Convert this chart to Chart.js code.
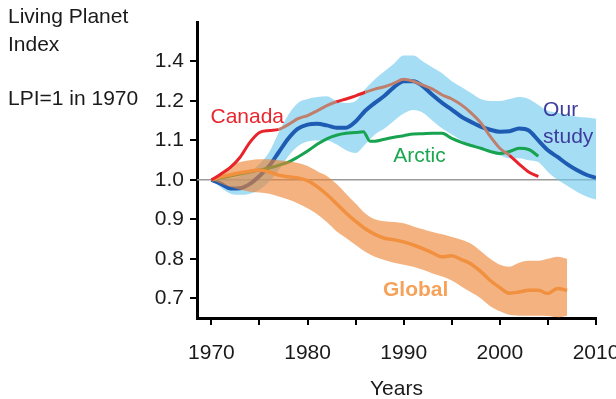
<!DOCTYPE html>
<html>
<head>
<meta charset="utf-8">
<script src="https://cdn.jsdelivr.net/npm/chart.js@4.4.1/dist/chart.umd.min.js"></script>
<style>
  body { margin: 0; background: #fff; }
  #wrap { position: relative; width: 616px; height: 399px; }
</style>
</head>
<body>
<div id="wrap"><canvas id="lpiChart" width="616" height="399"></canvas></div>
<script>
// ---- data ----
const ourYears = [1970, 1971, 1972, 1973, 1974, 1975, 1976, 1977, 1978, 1979, 1980, 1981, 1982, 1983,
    1984, 1985, 1986, 1987, 1988, 1989, 1990, 1991, 1992, 1993, 1994, 1995, 1996, 1997, 1998, 1999,
    2000, 2001, 2002, 2003, 2004, 2005, 2006, 2007, 2008, 2009, 2010];
const ourStudy = [1.0, 0.99, 0.978, 0.979, 0.99, 1.01, 1.035, 1.07, 1.105, 1.13, 1.14, 1.142, 1.138, 1.132,
    1.132, 1.148, 1.175, 1.195, 1.213, 1.235, 1.25, 1.25, 1.237, 1.215, 1.195, 1.178, 1.16, 1.147, 1.135, 1.127,
    1.122, 1.123, 1.13, 1.125, 1.1, 1.075, 1.058, 1.04, 1.025, 1.013, 1.005];
const ourHigh = [1.0, 1.005, 1.005, 1.01, 1.02, 1.04, 1.07, 1.12, 1.165, 1.195, 1.205, 1.21, 1.212, 1.2,
    1.195, 1.2, 1.23, 1.255, 1.275, 1.295, 1.315, 1.315, 1.3, 1.285, 1.27, 1.25, 1.235, 1.22, 1.205, 1.2,
    1.2, 1.205, 1.21, 1.205, 1.19, 1.175, 1.17, 1.165, 1.16, 1.158, 1.155];
const ourLow = [1.0, 0.98, 0.965, 0.962, 0.965, 0.975, 0.995, 1.025, 1.06, 1.085, 1.097, 1.1, 1.1, 1.09,
    1.075, 1.068, 1.09, 1.115, 1.13, 1.15, 1.168, 1.177, 1.17, 1.15, 1.13, 1.115, 1.1, 1.09, 1.08, 1.07,
    1.062, 1.055, 1.055, 1.05, 1.045, 1.02, 1.0, 0.985, 0.97, 0.958, 0.95];

const canadaYears = [1970, 1971, 1972, 1973, 1974, 1975, 1976, 1977, 1978, 1979, 1980, 1981, 1982, 1983,
    1984, 1985, 1986, 1987, 1988, 1989, 1990, 1991, 1992, 1993, 1994, 1995, 1996, 1997, 1998, 1999,
    2000, 2001, 2002, 2003, 2004];
const canada = [1.0, 1.015, 1.032, 1.058, 1.095, 1.12, 1.125, 1.128, 1.14, 1.155, 1.163, 1.175, 1.188, 1.198,
    1.205, 1.213, 1.222, 1.23, 1.236, 1.245, 1.255, 1.25, 1.24, 1.23, 1.215, 1.205, 1.19, 1.17, 1.145, 1.11,
    1.08, 1.062, 1.04, 1.02, 1.008];

const arcticYears = [1970, 1971, 1972, 1973, 1974, 1975, 1976, 1977, 1978, 1979, 1980, 1981, 1982, 1983,
    1984, 1985, 1985.8, 1986.5, 1987, 1988, 1989, 1990, 1991, 1992, 1993, 1994, 1995, 1996, 1997, 1998,
    1999, 2000, 2001, 2002, 2003, 2004];
const arctic = [1.0, 1.005, 1.01, 1.015, 1.02, 1.025, 1.03, 1.037, 1.045, 1.058, 1.073, 1.09, 1.104, 1.113,
    1.118, 1.12, 1.122, 1.098, 1.098, 1.103, 1.108, 1.112, 1.116, 1.117, 1.118, 1.118, 1.105, 1.095, 1.087, 1.08,
    1.072, 1.067, 1.072, 1.08, 1.077, 1.06];

const globalYears = [1970, 1971, 1972, 1973, 1974, 1975, 1976, 1977, 1978, 1979, 1980, 1981, 1982, 1983,
    1984, 1985, 1986, 1987, 1988, 1989, 1990, 1991, 1992, 1993, 1994, 1995, 1996, 1997, 1998, 1999,
    2000, 2001, 2002, 2003, 2004, 2005, 2006, 2007];
const globalLpi = [1.0, 1.008, 1.013, 1.018, 1.022, 1.025, 1.02, 1.012, 1.008, 1.005, 0.998, 0.983, 0.963, 0.94,
    0.916, 0.895, 0.876, 0.862, 0.852, 0.848, 0.843, 0.835, 0.826, 0.815, 0.805, 0.808, 0.798, 0.787, 0.768, 0.745,
    0.727, 0.713, 0.716, 0.72, 0.72, 0.712, 0.725, 0.72];
const globalHigh = [1.0, 1.02, 1.035, 1.045, 1.05, 1.052, 1.052, 1.05, 1.047, 1.043, 1.035, 1.022, 1.01, 0.99,
    0.965, 0.94, 0.915, 0.9, 0.895, 0.893, 0.89, 0.882, 0.875, 0.868, 0.862, 0.855, 0.848, 0.838, 0.82, 0.8,
    0.785, 0.78, 0.79, 0.795, 0.795, 0.8, 0.805, 0.8];
const globalLow = [1.0, 0.99, 0.982, 0.975, 0.97, 0.968, 0.965, 0.958, 0.95, 0.94, 0.928, 0.913, 0.893, 0.87,
    0.853, 0.835, 0.818, 0.805, 0.797, 0.79, 0.785, 0.78, 0.772, 0.763, 0.755, 0.745, 0.73, 0.715, 0.7, 0.68,
    0.667, 0.658, 0.656, 0.656, 0.656, 0.655, 0.652, 0.656];

const xTicks = [1970, 1975, 1980, 1985, 1990, 1995, 2000, 2005, 2010];
const xTickLabels = ['1970', '', '1980', '', '1990', '', '2000', '', '2010'];
const yTicks = [0.7, 0.8, 0.9, 1.0, 1.1, 1.2, 1.3];
const yTickLabels = ['0.7', '0.8', '0.9', '1.0', '1.1', '1.2', '1.4'];   // top label printed as 1.4 in the original

// ---- helpers ----
const FONT = '"Liberation Sans", Arial, sans-serif';
const CANADA_RED = '#e8232b';
const CANADA_BROWN = '#bf7f6c';

function toPoints(xs, ys) {
    return xs.map((x, i) => ({ x: x, y: ys[i] }));
}

function interp(xs, ys, x) {
    if (x <= xs[0]) return ys[0];
    for (let i = 1; i < xs.length; i++) {
        if (x <= xs[i]) {
            const t = (x - xs[i - 1]) / (xs[i] - xs[i - 1]);
            return ys[i - 1] + t * (ys[i] - ys[i - 1]);
        }
    }
    return ys[ys.length - 1];
}

// Canada line looks brown where it runs inside the light-blue band
function insideOurBand(x, y) {
    return y <= interp(ourYears, ourHigh, x) && y >= interp(ourYears, ourLow, x);
}

const baseLine = {
    id: 'baseLine',
    beforeDatasetsDraw(chart) {
        const { ctx, chartArea, scales } = chart;
        const py = scales.y.getPixelForValue(1.0);
        ctx.save();
        ctx.strokeStyle = '#9a9a9a';
        ctx.lineWidth = 1.5;
        ctx.beginPath();
        ctx.moveTo(chartArea.left, py);
        ctx.lineTo(chartArea.right, py);
        ctx.stroke();
        ctx.restore();
    }
};

const textLabels = {
    id: 'textLabels',
    afterDraw(chart) {
        const { ctx, scales } = chart;
        ctx.save();
        ctx.textBaseline = 'middle';
        ctx.textAlign = 'left';
        ctx.fillStyle = '#1a1a1a';
        ctx.font = '21px ' + FONT;
        ctx.fillText('Living Planet', 8, 17);
        ctx.fillText('Index', 8, 45);
        ctx.fillText('LPI=1 in 1970', 8, 99);

        // series names, placed in data units
        const names = [
            { text: 'Canada', x: 1969.9, y: 1.16, color: '#e8262d', bold: false },
            { text: 'Arctic', x: 1988.9, y: 1.06, color: '#1ba650', bold: false },
            { text: 'Our', x: 2004.5, y: 1.177, color: '#3d3d9e', bold: false },
            { text: 'study', x: 2004.5, y: 1.108, color: '#3d3d9e', bold: false },
            { text: 'Global', x: 1987.85, y: 0.721, color: '#f6a25a', bold: true }
        ];
        names.forEach(n => {
            ctx.font = (n.bold ? 'bold ' : '') + '21px ' + FONT;
            ctx.fillStyle = n.color;
            ctx.fillText(n.text, scales.x.getPixelForValue(n.x), scales.y.getPixelForValue(n.y));
        });
        ctx.restore();
    }
};

const lineStyle = { pointRadius: 0, fill: false, cubicInterpolationMode: 'monotone' };

const ctx = document.getElementById('lpiChart').getContext('2d');
new Chart(ctx, {
    type: 'line',
    data: {
        datasets: [
            { ...lineStyle, label: 'our high', data: toPoints(ourYears, ourHigh), borderWidth: 0, order: 8 },
            { ...lineStyle, label: 'our low', data: toPoints(ourYears, ourLow), borderWidth: 0, order: 7,
              fill: '-1', backgroundColor: 'rgba(110, 200, 238, 0.62)' },
            { ...lineStyle, label: 'Our study', data: toPoints(ourYears, ourStudy), borderColor: '#1e5cb3',
              borderWidth: 4, order: 6 },
            { ...lineStyle, label: 'Arctic', data: toPoints(arcticYears, arctic), borderColor: '#17a34f',
              borderWidth: 3, order: 5 },
            { ...lineStyle, label: 'global high', data: toPoints(globalYears, globalHigh), borderWidth: 0, order: 4 },
            { ...lineStyle, label: 'global low', data: toPoints(globalYears, globalLow), borderWidth: 0, order: 3,
              fill: '-1', backgroundColor: 'rgba(238, 130, 50, 0.62)' },
            { ...lineStyle, label: 'Global', data: toPoints(globalYears, globalLpi), borderColor: '#f1903f',
              borderWidth: 3.5, order: 2 },
            { ...lineStyle, label: 'Canada', data: toPoints(canadaYears, canada), borderColor: CANADA_RED,
              borderWidth: 3, order: 1,
              segment: {
                  borderColor: c => {
                      const xm = (c.p0.parsed.x + c.p1.parsed.x) / 2;
                      const ym = (c.p0.parsed.y + c.p1.parsed.y) / 2;
                      return insideOurBand(xm, ym) ? CANADA_BROWN : CANADA_RED;
                  }
              } }
        ]
    },
    options: {
        responsive: false,
        animation: false,
        events: [],
        layout: { padding: { left: 0, top: 22, right: 20, bottom: 0 } },
        plugins: { legend: { display: false }, tooltip: { enabled: false } },
        scales: {
            x: {
                type: 'linear',
                min: 1968.5,
                max: 2010,
                afterBuildTicks: s => { s.ticks = xTicks.map(v => ({ value: v })); },
                afterFit: s => { s.height = 81; s.paddingLeft = 0; s.paddingRight = 0; },
                border: { color: '#000', width: 3 },
                grid: { drawOnChartArea: false, drawTicks: true, tickLength: 7, tickColor: '#000', lineWidth: 2 },
                ticks: {
                    autoSkip: false, maxRotation: 0, padding: 16, color: '#1a1a1a',
                    font: { family: FONT, size: 21 },
                    callback: (v, i) => xTickLabels[i]
                },
                title: { display: true, text: 'Years', color: '#1a1a1a', font: { family: FONT, size: 21 },
                         padding: { top: 0, bottom: -3 } }
            },
            y: {
                type: 'linear',
                min: 0.65,
                max: 1.4,
                afterBuildTicks: s => { s.ticks = yTicks.map(v => ({ value: v })); },
                afterFit: s => { s.width = 197; s.paddingTop = 0; s.paddingBottom = 0; },
                border: { color: '#000', width: 3 },
                grid: { drawOnChartArea: false, drawTicks: true, tickLength: 7, tickColor: '#000', lineWidth: 2 },
                ticks: {
                    padding: 6, color: '#1a1a1a',
                    font: { family: FONT, size: 21 },
                    callback: (v, i) => yTickLabels[i]
                }
            }
        }
    },
    plugins: [baseLine, textLabels]
});
</script>
</body>
</html>
